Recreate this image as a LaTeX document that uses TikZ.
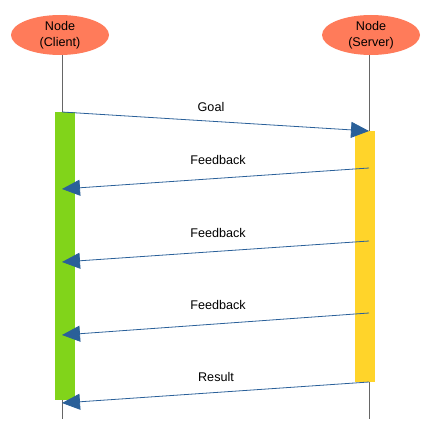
\documentclass[tikz,border=0pt]{standalone}
\usepackage{fontspec}
\setmainfont{Liberation Sans}
\usetikzlibrary{positioning, calc, shapes.geometric, arrows.meta}

\definecolor{actorred}{HTML}{FF7B5A}
\definecolor{clientgreen}{HTML}{81D41A}
\definecolor{serveryellow}{HTML}{FFD42A}
\definecolor{msgblue}{HTML}{2A6099}

\begin{document}
\begin{tikzpicture}[x=1pt, y=-1pt, font=\fontsize{12.6}{16}\selectfont, align=center,
    actor/.style={ellipse, fill=actorred, inner sep=0pt, minimum width=98pt, minimum height=40pt},
    lifeline/.style={draw=black!60, line width=1pt},
    activity/.style={inner sep=0pt, minimum width=20pt},
    msg/.style={draw=msgblue, line width=0.8pt, -{Triangle[length=18pt, width=16pt, fill=msgblue]}}]
    \useasboundingbox (0,0) rectangle (435,435);

    \node (client)    [actor]                                         at (60,35)   {Node\\(Client)};
    \node (server)    [actor]                                         at (371,35)  {Node\\(Server)};

    \coordinate (clientend) at (62,419);
    \coordinate (serverend) at (369,419);
    \draw[lifeline] (client.south -| clientend) -- (clientend);
    \draw[lifeline] (server.south -| serverend) -- (serverend);

    \node (clientbar) [activity, fill=clientgreen,  minimum height=288pt] at (65,256)  {};
    \node (serverbar) [activity, fill=serveryellow, minimum height=251pt] at (365,256.5) {};

    % goal
    \coordinate (goalc) at (clientend |- 0,112);
    \coordinate (goals) at (serverend |- 0,131);
    \draw[msg] (goalc) -- (goals);
    \node (goal) at (211,107) {Goal};

    % feedback
    \foreach \ys/\yc/\n in {168/189/1, 241/262/2, 313/335/3} {
        \coordinate (fbs\n) at (serverend |- 0,\ys);
        \coordinate (fbc\n) at (clientend |- 0,\yc);
        \draw[msg] (fbs\n) -- (fbc\n);
        \node (feedback\n) at (218,\ys-8) {Feedback};
    }

    % result
    \coordinate (results) at (serverend |- 0,382);
    \coordinate (resultc) at (clientend |- 0,403);
    \draw[msg] (results) -- (resultc);
    \node (result) at (216,377) {Result};
\end{tikzpicture}
\end{document}
